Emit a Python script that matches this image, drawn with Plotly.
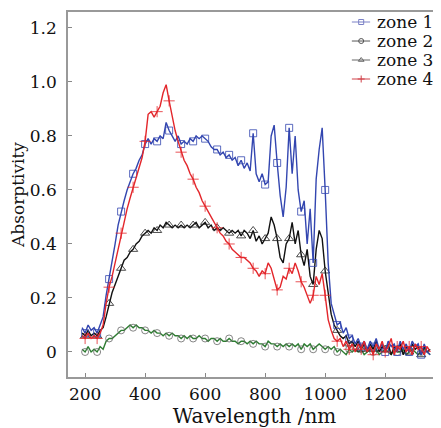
import plotly.graph_objects as go

wavelength = list(range(190, 1360, 10))

zone1 = [0.09, 0.07, 0.10, 0.08, 0.09, 0.07, 0.10, 0.13, 0.21, 0.27,
         0.34, 0.40, 0.47, 0.52, 0.56, 0.60, 0.63, 0.66, 0.68, 0.71,
         0.73, 0.77, 0.79, 0.77, 0.79, 0.78, 0.80, 0.79, 0.85, 0.82,
         0.80, 0.78, 0.80, 0.77, 0.78, 0.77, 0.79, 0.78, 0.80, 0.79,
         0.80, 0.79, 0.78, 0.76, 0.75, 0.75, 0.73, 0.74, 0.72, 0.73,
         0.71, 0.72, 0.69, 0.71, 0.68, 0.70, 0.67, 0.81, 0.66, 0.63,
         0.66, 0.62, 0.63, 0.80, 0.84, 0.70, 0.58, 0.50, 0.61, 0.83,
         0.66, 0.80, 0.60, 0.52, 0.56, 0.40, 0.53, 0.33, 0.64, 0.75,
         0.83, 0.60, 0.33, 0.18, 0.14, 0.10, 0.11, 0.07, 0.09, 0.05,
         0.06, 0.03, 0.05, 0.02, 0.04, 0.01, 0.04, 0.02, 0.05, 0.01,
         0.03, 0.00, 0.04, 0.02, 0.03, 0.00, 0.04, 0.01, 0.03, 0.00,
         0.04, 0.02, 0.03, -0.01, 0.03, 0.00, -0.01]

zone2 = [0.01, 0.00, 0.02, 0.00, 0.01, 0.00, 0.02, 0.01, 0.04, 0.05,
         0.05, 0.06, 0.07, 0.08, 0.08, 0.09, 0.10, 0.09, 0.10, 0.09,
         0.09, 0.08, 0.08, 0.07, 0.08, 0.07, 0.07, 0.06, 0.07, 0.06,
         0.07, 0.06, 0.06, 0.05, 0.06, 0.05, 0.06, 0.05, 0.05, 0.06,
         0.05, 0.05, 0.04, 0.05, 0.05, 0.04, 0.05, 0.04, 0.04, 0.05,
         0.04, 0.04, 0.03, 0.04, 0.04, 0.03, 0.04, 0.03, 0.04, 0.03,
         0.03, 0.02, 0.04, 0.03, 0.03, 0.02, 0.03, 0.02, 0.03, 0.02,
         0.03, 0.02, 0.03, 0.01, 0.03, 0.02, 0.03, 0.01, 0.02, 0.03,
         0.02, 0.01, 0.02, 0.01, 0.02, 0.00, 0.01, 0.00, -0.01, 0.01,
         0.00, 0.01, 0.00, 0.01, -0.01, 0.00, 0.01, 0.00, 0.01, -0.01,
         0.00, 0.01, 0.00, -0.01, 0.01, 0.00, 0.00, 0.01, -0.01, 0.00,
         0.01, 0.00, -0.01, 0.00, 0.01, 0.00, -0.01]

zone3 = [0.07, 0.06, 0.08, 0.06, 0.07, 0.06, 0.08, 0.09, 0.13, 0.18,
         0.22, 0.25, 0.28, 0.31, 0.34, 0.35, 0.37, 0.38, 0.40, 0.41,
         0.43, 0.44, 0.45, 0.44, 0.46, 0.45, 0.47, 0.46, 0.48, 0.47,
         0.46, 0.47, 0.46, 0.47, 0.46, 0.47, 0.46, 0.47, 0.48, 0.46,
         0.47, 0.48, 0.46, 0.47, 0.45, 0.46, 0.45, 0.46, 0.45, 0.44,
         0.45, 0.44, 0.45, 0.43, 0.45, 0.44, 0.42, 0.45, 0.41, 0.43,
         0.40, 0.42, 0.44, 0.50, 0.47, 0.42, 0.35, 0.33, 0.40, 0.42,
         0.48, 0.40, 0.45, 0.36, 0.32, 0.38, 0.28, 0.25, 0.38, 0.45,
         0.42, 0.30, 0.22, 0.14, 0.10, 0.08, 0.06, 0.05, 0.06, 0.03,
         0.04, 0.02, 0.04, 0.01, 0.03, 0.00, 0.03, 0.01, 0.04, 0.00,
         0.02, 0.01, 0.03, -0.01, 0.02, 0.01, 0.03, -0.01, 0.02, 0.00,
         0.03, 0.01, 0.02, -0.01, 0.02, 0.00, 0.01]

zone4 = [0.06, 0.05, 0.07, 0.05, 0.06, 0.05, 0.07, 0.10, 0.18, 0.24,
         0.28, 0.33, 0.39, 0.44, 0.48, 0.53, 0.57, 0.61, 0.64, 0.68,
         0.72, 0.78, 0.88, 0.89, 0.87, 0.89, 0.91, 0.96, 0.99, 0.93,
         0.87, 0.82, 0.78, 0.74, 0.71, 0.69, 0.66, 0.64, 0.61, 0.59,
         0.56, 0.54, 0.52, 0.50, 0.48, 0.46, 0.44, 0.43, 0.41, 0.40,
         0.38, 0.37, 0.36, 0.35, 0.35, 0.34, 0.33, 0.31, 0.30, 0.28,
         0.30, 0.29, 0.33, 0.31, 0.27, 0.23, 0.24, 0.28, 0.27, 0.31,
         0.29, 0.33, 0.30, 0.26, 0.24, 0.21, 0.18, 0.21, 0.28, 0.25,
         0.29, 0.21, 0.12, 0.08, 0.05, 0.04, 0.05, 0.02, 0.04, 0.01,
         0.03, 0.00, 0.03, 0.01, 0.04, 0.00, 0.02, -0.01, 0.03, 0.01,
         0.04, 0.00, 0.02, 0.05, -0.01, 0.02, 0.01, 0.04, 0.00, 0.02,
         -0.01, 0.03, 0.01, 0.02, -0.01, 0.02, 0.00]

series_names = ["zone 1", "zone 2", "zone 3", "zone 4"]
x_ticks = [200, 400, 600, 800, 1000, 1200]
y_ticks = [0, 0.2, 0.4, 0.6, 0.8, 1.0, 1.2]
y_tick_labels = ["0", "0.2", "0.4", "0.6", "0.8", "1.0", "1.2"]

FONT = "DejaVu Serif"

styles = {
    "zone 2": dict(line="#2e7d32", mcolor="#666666", symbol="circle-open", leg="#555555", size=7),
    "zone 3": dict(line="#111111", mcolor="#222222", symbol="triangle-up-open", leg="#666666", size=8),
    "zone 1": dict(line="#3346b0", mcolor="#3346b0", symbol="square-open", leg="#7a80c6", size=7),
    "zone 4": dict(line="#e3262b", mcolor="#e3262b", symbol="cross-thin-open", leg="#d04048", size=8),
}
data = {"zone 1": zone1, "zone 2": zone2, "zone 3": zone3, "zone 4": zone4}

fig = go.Figure()
for name in ["zone 2", "zone 3", "zone 1", "zone 4"]:
    st = styles[name]
    ys = data[name]
    fig.add_trace(go.Scatter(x=wavelength, y=ys, mode="lines",
                             line=dict(color=st["line"], width=1.4),
                             showlegend=False, hoverinfo="skip"))
    fig.add_trace(go.Scatter(x=wavelength[1::4], y=ys[1::4], mode="markers",
                             marker=dict(symbol=st["symbol"], size=st["size"],
                                         color=st["mcolor"], line=dict(width=0.8, color=st["mcolor"])),
                             showlegend=False, hoverinfo="skip"))

# compact legend drawn on a hidden overlay axis (0..1 = plot area)
leg_x0, leg_x1, leg_xm, leg_tx = 0.761, 0.810, 0.786, 0.823
leg_rows = [0.9726, 0.9205, 0.8685, 0.8164]
for name, yy in zip(series_names, leg_rows):
    st = styles[name]
    fig.add_trace(go.Scatter(x=[leg_x0, leg_x1], y=[yy, yy], mode="lines",
                             line=dict(color=st["leg"], width=1),
                             xaxis="x2", yaxis="y2", showlegend=False, hoverinfo="skip"))
    fig.add_trace(go.Scatter(x=[leg_xm], y=[yy], mode="markers",
                             marker=dict(symbol=st["symbol"], size=5, color=st["leg"],
                                         line=dict(width=1, color=st["leg"])),
                             xaxis="x2", yaxis="y2", showlegend=False, hoverinfo="skip"))
    fig.add_annotation(x=leg_tx, y=yy, xref="x2", yref="y2", text=name, showarrow=False,
                       xanchor="left", yanchor="middle",
                       font=dict(family=FONT, size=17, color="#111111"))

fig.update_layout(
    width=433, height=420,
    margin=dict(l=60, r=0, t=4, b=51),
    paper_bgcolor="white", plot_bgcolor="white",
    font=dict(family=FONT, size=17, color="#111111"),
    showlegend=False,
    xaxis2=dict(overlaying="x", range=[0, 1], visible=False, fixedrange=True),
    yaxis2=dict(overlaying="y", range=[0, 1], visible=False, fixedrange=True),
)
fig.layout.xaxis.update(range=[143, 1386], tickvals=x_ticks, ticks="inside", ticklen=4,
                        tickcolor="#888888", showline=True, linecolor="#999999", linewidth=1.5,
                        mirror=True, showgrid=False, zeroline=False, ticklabelstandoff=1,
                        title=dict(text="Wavelength /nm", font=dict(size=20), standoff=9),
                        tickfont=dict(size=17))
fig.layout.yaxis.update(range=[-0.0926, 1.259], tickvals=y_ticks, ticktext=y_tick_labels,
                        ticks="inside", ticklen=4, tickcolor="#888888", showline=True,
                        linecolor="#999999", linewidth=1.5, showgrid=False, zeroline=False,
                        ticklabelstandoff=6,
                        title=dict(text="Absorptivity", font=dict(size=17), standoff=4),
                        tickfont=dict(size=17))

fig.write_html("out.html")
